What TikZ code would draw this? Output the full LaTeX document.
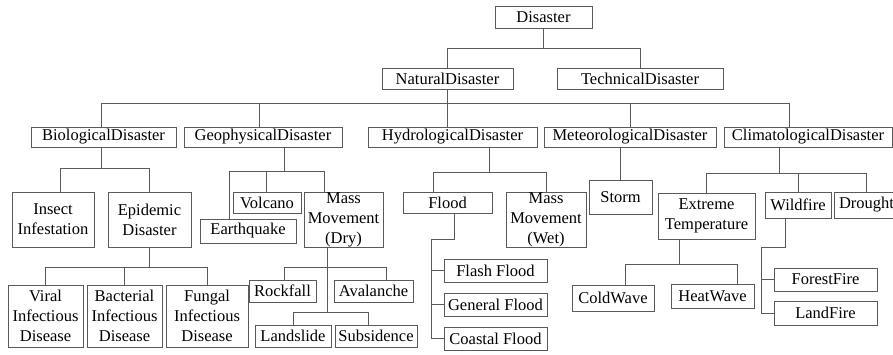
\documentclass[tikz,border=0pt]{standalone}
\usepackage{fontspec}
\setmainfont{Liberation Serif}

\tikzset{
  box/.style={draw=black!65, line width=0.8pt, inner sep=0pt, align=center,
    font=\fontsize{16.5}{20}\selectfont},
  tallbox/.style={box, inner ysep=-5pt},
  link/.style={draw=black!65, line width=0.8pt},
}

\begin{document}
\begin{tikzpicture}[x=1pt, y=-1pt]
    \clip (0,0) rectangle (893,354);

    % top levels
    \node[box, minimum width=97pt, minimum height=22pt] (dis) at (543.5,17) {Disaster};
    \node[box, minimum width=131pt, minimum height=21pt] (nat) at (447.5,78.5) {NaturalDisaster};
    \node[box, minimum width=166pt, minimum height=21pt] (tech) at (640,78.5) {TechnicalDisaster};

    \node[box, minimum width=145pt, minimum height=20pt] (bio) at (103.5,137) {BiologicalDisaster};
    \node[box, minimum width=158pt, minimum height=20pt] (geo) at (263,137) {GeophysicalDisaster};
    \node[box, minimum width=169pt, minimum height=20pt] (hyd) at (452.5,137) {HydrologicalDisaster};
    \node[box, minimum width=172pt, minimum height=20pt] (met) at (630,137) {MeteorologicalDisaster};
    \node[box, minimum width=168pt, minimum height=20pt] (cli) at (808,137) {ClimatologicalDisaster};

    % biological
    \node[box, minimum width=82pt, minimum height=55pt] (ins) at (53,219.5) {Insect\\Infestation};
    \node[box, minimum width=83pt, minimum height=55pt] (epi) at (149.5,219.5) {Epidemic\\Disaster};
    \node[tallbox, minimum width=75pt, minimum height=62pt] (vir) at (45.5,316) {Viral\\Infectious\\Disease};
    \node[tallbox, minimum width=75pt, minimum height=62pt] (bac) at (124.5,316) {Bacterial\\Infectious\\Disease};
    \node[tallbox, minimum width=82pt, minimum height=62pt] (fun) at (207,316) {Fungal\\Infectious\\Disease};

    % geophysical
    \node[box, minimum width=68pt, minimum height=21pt] (vol) at (267,202.5) {Volcano};
    \node[box, minimum width=96pt, minimum height=24pt] (eq) at (248,231) {Earthquake};
    \node[tallbox, minimum width=79pt, minimum height=55pt] (mmd) at (343.5,219.5) {Mass\\Movement\\(Dry)};
    \node[box, minimum width=67pt, minimum height=22pt] (roc) at (282.5,291) {Rockfall};
    \node[box, minimum width=79pt, minimum height=22pt] (ava) at (373.5,291) {Avalanche};
    \node[box, minimum width=76pt, minimum height=22pt] (lan) at (293,336) {Landslide};
    \node[box, minimum width=82pt, minimum height=22pt] (sub) at (376,336) {Subsidence};

    % hydrological
    \node[box, minimum width=89pt, minimum height=21pt] (flo) at (447.5,202.5) {Flood};
    \node[tallbox, minimum width=80pt, minimum height=55pt] (mmw) at (546,219.5) {Mass\\Movement\\(Wet)};
    \node[box, minimum width=103pt, minimum height=23pt] (fla) at (495.5,270.5) {Flash Flood};
    \node[box, minimum width=103pt, minimum height=23pt] (gen) at (495.5,304.5) {General Flood};
    \node[box, minimum width=103pt, minimum height=23pt] (coa) at (495.5,338.5) {Coastal Flood};

    % meteorological
    \node[box, minimum width=63pt, minimum height=34pt] (sto) at (620.5,197) {Storm};

    % climatological
    \node[box, minimum width=97pt, minimum height=46pt] (ext) at (706.5,216) {Extreme\\Temperature};
    \node[box, minimum width=66pt, minimum height=26pt] (wil) at (798,205) {Wildfire};
    \node[box, minimum width=65pt, minimum height=26pt] (dro) at (866.5,205) {Drought};
    \node[box, minimum width=82pt, minimum height=26pt] (col) at (613,298) {ColdWave};
    \node[box, minimum width=83pt, minimum height=24pt] (hea) at (712.5,296) {HeatWave};
    \node[box, minimum width=103pt, minimum height=23pt] (for) at (825.5,279.5) {ForestFire};
    \node[box, minimum width=103pt, minimum height=24pt] (lf) at (825.5,313) {LandFire};

    % junctions
    \coordinate (j0) at (543.5,48);
    \coordinate (j1) at (447.5,103.5);
    \coordinate (j2) at (101.7,168);
    \coordinate (j3) at (149,267);
    \coordinate (j4) at (284,171);
    \coordinate (j5) at (327,267);
    \coordinate (j6) at (327,312);
    \coordinate (j7) at (489,172);
    \coordinate (j8) at (454,239);
    \coordinate (j9) at (431,239);
    \coordinate (j10) at (779,173);
    \coordinate (j11) at (679,264);
    \coordinate (j12) at (785,247);
    \coordinate (j13) at (761,247);

    \path[link] (dis.south) -- (j0) -| (nat.north);
    \path[link] (j0) -| (tech.north);

    \path[link] (nat.south) -- (j1) -| (hyd.north -| nat.south);
    \path[link] (j1) -| ([xshift=-1.8pt]bio.north);
    \path[link] (j1) -| ([xshift=-4pt]geo.north);
    \path[link] (j1) -| (met.north);
    \path[link] (j1) -| ([xshift=-19pt]cli.north);

    \path[link] (bio.south -| j2) -- (j2) -| ([xshift=7pt]ins.north);
    \path[link] (j2) -| (epi.north -| j3);
    \path[link] (epi.south -| j3) -- (j3) -| ([xshift=-0.5pt]vir.north);
    \path[link] (j3) -| (bac.north);
    \path[link] (j3) -| (fun.north);

    \path[link] (geo.south -| j4) -- (j4) -| ([xshift=-19pt]eq.north);
    \path[link] (j4) -| ([xshift=-1pt]vol.north);
    \path[link] (j4) -| ([xshift=-19.5pt]mmd.north);
    \path[link] (mmd.south -| j5) -- (j6);
    \path[link] (j5) -| ([xshift=1.5pt]roc.north);
    \path[link] (j5) -| ([xshift=12.5pt]ava.north);
    \path[link] (j6) -| (lan.north);
    \path[link] (j6) -| ([xshift=-8pt]sub.north);

    \path[link] (hyd.south -| j7) -- (j7) -| ([xshift=-14.5pt]flo.north);
    \path[link] (j7) -| (mmw.north);
    \path[link] (flo.south -| j8) -- (j8) -- (j9) |- (coa.west);
    \path[link] (j9) |- (fla.west);
    \path[link] (j9) |- (gen.west);

    \path[link] (met.south -| sto.north) -- (sto.north);

    \path[link] (cli.south -| j10) -- (j10) -| (ext.north);
    \path[link] (j10) -| (wil.north);
    \path[link] (j10) -| (dro.north);
    \path[link] (ext.south -| j11) -- (j11) -| ([xshift=12pt]col.north);
    \path[link] (j11) -| ([xshift=24.5pt]hea.north);
    \path[link] (wil.south -| j12) -- (j12) -- (j13) |- (lf.west);
    \path[link] (j13) |- (for.west);

\end{tikzpicture}
\end{document}
